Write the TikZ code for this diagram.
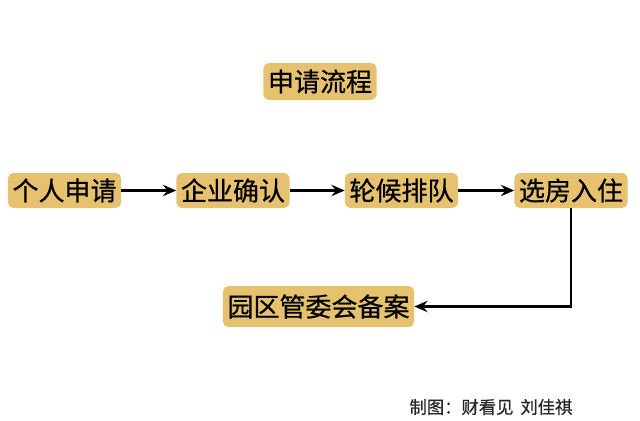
\documentclass[tikz,border=0pt]{standalone}
\usepackage{fontspec}
\setmainfont[FakeBold=0.6]{Noto Sans CJK SC}
\usetikzlibrary{arrows.meta}
\definecolor{boxgold}{RGB}{229,193,112}
\tikzset{
  stepbox/.style={fill=boxgold, rounded corners=4pt, inner xsep=3.4pt, inner ysep=0pt,
    minimum height=26.25pt, font=\fontsize{19.5pt}{22pt}\selectfont},
  link/.style={-{Stealth[length=10pt,width=8.5pt,inset=3.5pt]}, line width=1.7pt}
}
\begin{document}
\begin{tikzpicture}[x=0.75pt,y=-0.75pt]
        \useasboundingbox (0,0) rectangle (640,421);

        % Title
        \node[stepbox, minimum height=27.75pt] (title) at (320,81.5) {申请流程};

        % Steps
        \node[stepbox] (apply) at (64.5,190.5) {个人申请};
        \node[stepbox] (confirm) at (233,190.5) {企业确认};
        \node[stepbox] (queue) at (401.5,190.5) {轮候排队};
        \node[stepbox] (choose) at (571,190.5) {选房入住};
        \node[stepbox, minimum height=30.75pt] (record) at (318.5,306.5) {园区管委会备案};

        % Arrows
        \draw[link] (apply) -- (confirm);
        \draw[link] (confirm) -- (queue);
        \draw[link] (queue) -- (choose);
        \draw[link] (choose.south) |- (record.east);

        % Credit
        \node[font=\fontsize{13pt}{15pt}\selectfont, text=black!85] (credit) at (491,407) {制图：财看见\hspace{0.4em}刘佳祺};
    \end{tikzpicture}
\end{document}
